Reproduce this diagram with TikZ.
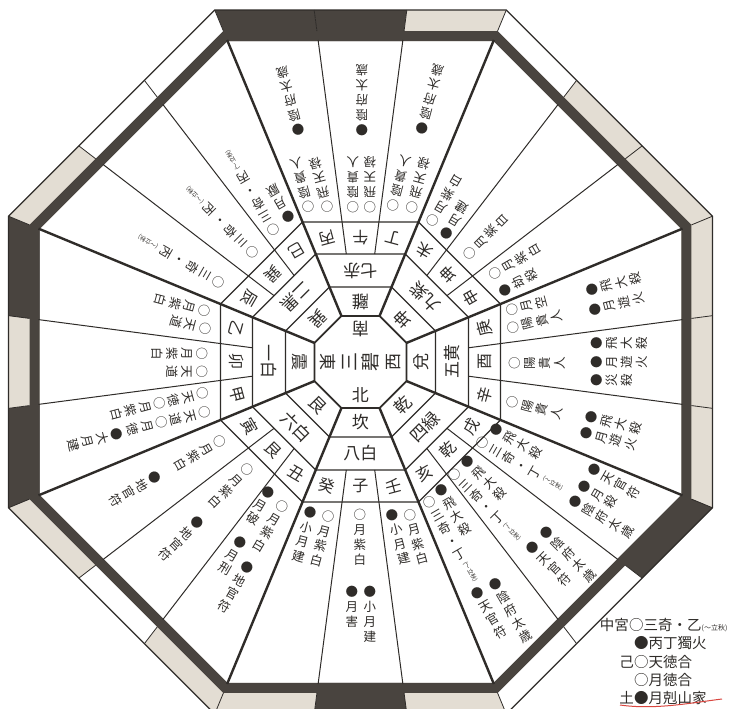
\documentclass[tikz,border=0pt]{standalone}
\usepackage{fontspec}
\newfontfamily\jp{Noto Sans CJK JP}
\usetikzlibrary{calc}
\definecolor{bandDark}{HTML}{49443F}
\definecolor{bandLight}{HTML}{E3DDD3}
\definecolor{ink}{HTML}{2F2C29}
\definecolor{redmark}{HTML}{D9463F}
\newcount\tcnt
\newcommand\sml{\raisebox{10pt}{\rotatebox{-90}{\fontsize{6}{7}\selectfont (〜立秋)}}}
\newcommand\vc[4]{\global\advance\tcnt by 1\relax
  \node[vtext, rotate={#1+90}, anchor=north] (t\the\tcnt) at ($({#2-360.5},{362-#3})+(#1:-6)$) {#4};}
\tikzset{
  vtext/.style={font=\jp\fontsize{12.5}{15}\selectfont, align=center, inner sep=0pt, text=ink},
  mtn/.style={font=\jp\fontsize{16}{18}\selectfont, inner sep=0pt, text=ink},
  starlbl/.style={font=\jp\fontsize{17}{19}\selectfont, inner sep=0pt, text=ink},
  centerlbl/.style={font=\jp\fontsize{19}{21}\selectfont, align=center, inner sep=0pt, text=ink},
  legend/.style={font=\jp\fontsize{14.5}{16}\selectfont, inner sep=0pt, text=ink},
  oct/.style={insert path={(22.5:{#1*1.0823922}) -- (67.5:{#1*1.0823922}) -- (112.5:{#1*1.0823922}) -- (157.5:{#1*1.0823922}) -- (202.5:{#1*1.0823922}) -- (247.5:{#1*1.0823922}) -- (292.5:{#1*1.0823922}) -- (337.5:{#1*1.0823922}) -- cycle}},
}
\begin{document}
\begin{tikzpicture}[x=1pt,y=1pt]
\useasboundingbox (-360.5,-347) rectangle (376.5,362);
\fill[white] (-360.5,-347) rectangle (376.5,362);
% ---- outer band cells
\foreach \m/\f in {105/bandDark,90/bandDark,75/bandLight,60/white,45/bandLight,30/bandLight,15/bandLight,0/bandLight,-15/bandLight,-30/bandDark,-45/white,-60/white,-75/bandLight,-90/bandDark,-105/bandLight,-120/bandLight,-135/white,-150/bandLight,-165/bandDark,180/bandLight,165/bandDark,150/bandLight,135/white,120/white}{
  \pgfmathsetmacro\sc{45*round(\m/45)}
  \pgfmathsetmacro\angA{\m-7.5}
  \pgfmathsetmacro\angB{\m+7.5}
  \pgfmathsetmacro\ra{1/cos(\angA-\sc)}
  \pgfmathsetmacro\rb{1/cos(\angB-\sc)}
  \fill[\f] (\angA:{352*\ra}) -- (\angB:{352*\rb}) -- (\angB:{321*\rb}) -- (\angA:{321*\ra}) -- cycle;
}
\fill[bandDark, even odd rule, oct=331, oct=321];
\foreach \k in {0,...,23}{
  \pgfmathsetmacro\angT{7.5+15*\k}
  \pgfmathsetmacro\sc{45*round(\angT/45)}
  \pgfmathsetmacro\rr{1/cos(\angT-\sc)}
  \draw[ink, line width=0.8pt] (\angT:{331*\rr}) -- (\angT:{352*\rr});
}
\draw[ink, line width=1.3pt, oct=352];
% ---- inner rings
\draw[ink, line width=1.8pt, oct=46];
\draw[ink, line width=1.3pt, oct=75];
\draw[ink, line width=1.3pt, oct=108];
\draw[ink, line width=1.3pt, oct=140];
\foreach \k in {0,...,7}
  \draw[ink, line width=2.4pt] ({22.5+45*\k}:{46*1.0823922}) -- ({22.5+45*\k}:{322*1.0823922});
\foreach \k in {0,...,7}
  \foreach \s in {-7.5,7.5}
    \draw[ink, line width=1pt] ({45*\k+\s}:{108*1.0086294}) -- ({45*\k+\s}:{322*1.0086294});
% ---- ring labels
\foreach \m/\t in {105/丙,90/午,75/丁,60/未,45/坤,30/申,15/庚,0/酉,-15/辛,-30/戌,-45/乾,-60/亥,-75/壬,-90/子,-105/癸,-120/丑,-135/艮,-150/寅,-165/甲,180/卯,165/乙,150/辰,135/巽,120/巳}{
  \pgfmathsetmacro\sc{45*round(\m/45)}
  \node[mtn, rotate=\m+90] (m\m) at (\m:{124/cos(\m-\sc)}) {\t};
}
\foreach \c/\t in {90/七赤,45/九紫,0/五黄,-45/四緑,-90/八白,-135/六白,180/一白,135/二黒}
  \node[starlbl, rotate=\c+90] (s\c) at (\c:91.5) {\t};
\foreach \c/\t in {90/離,45/坤,0/兌,-45/乾,-90/坎,-135/艮,180/震,135/巽}
  \node[starlbl, rotate=\c+90] (g\c) at (\c:60.5) {\t};
\node[starlbl, rotate=180] (cS) at (90:33) {南};
\node[starlbl, rotate=-90] (cE) at (180:33) {東};
\node[starlbl, rotate=90] (cW) at (0:33) {西};
\node[starlbl] (cN) at (-90:33) {北};
\node[centerlbl, rotate=90] (cC) at (0,0) {三\\碧};
% ---- wedge texts: top
\vc{105}{308}{207}{○\\陰\\貴\\人}
\vc{105}{327}{207}{○\\飛\\天\\禄}
\vc{105}{298}{130}{●\\陰\\府\\太\\歳}
\vc{90}{353}{207}{○\\陰\\貴\\人}
\vc{90}{370}{207}{○\\飛\\天\\禄}
\vc{90}{362}{130}{●\\陰\\府\\太\\歳}
\vc{75}{393}{205}{○\\陰\\貴\\人}
\vc{75}{412}{207}{○\\飛\\天\\禄}
\vc{75}{422}{128}{●\\陰\\府\\太\\歳}
% top-left
\vc{120}{288}{217}{●\\月\\厭}
\vc{120}{273}{230}{○\\三\\奇\\・\\丙\\\sml}
\vc{135}{252}{252}{○\\三\\奇\\・\\丙\\\sml}
\vc{150}{218}{282}{○\\三\\奇\\・\\丙\\\sml}
% left
\vc{165}{204}{311}{○\\月\\紫\\白}
\vc{165}{205}{329}{○\\天\\道}
\vc{180}{202}{354}{○\\月\\紫\\白}
\vc{180}{202}{372}{○\\天\\道}
\vc{-165}{203}{393}{○\\天\\徳}
\vc{-165}{205}{412}{○\\天\\道}
\vc{-165}{160}{403}{○\\月\\紫\\白}
\vc{-165}{162}{422}{○\\月\\徳}
\vc{-165}{117}{434}{●\\大\\月\\建}
% bottom-left
\vc{-150}{220}{442}{○\\月\\紫\\白}
\vc{-150}{155}{478}{●\\地\\官\\符}
\vc{-135}{247}{470}{○\\月\\紫\\白}
\vc{-135}{197}{523}{●\\地\\官\\符}
\vc{-120}{282}{507}{○\\月\\紫\\白}
\vc{-120}{268}{493}{●\\月\\破}
\vc{-120}{240}{543}{●\\月\\刑}
\vc{-120}{247}{568}{●\\地\\官\\符}
% bottom
\vc{-105}{328}{517}{○\\月\\紫\\白}
\vc{-105}{310}{513}{●\\小\\月\\建}
\vc{-90}{360}{515}{○\\月\\紫\\白}
\vc{-90}{352}{592}{●\\月\\害}
\vc{-90}{370}{592}{●\\小\\月\\建}
\vc{-75}{410}{515}{○\\月\\紫\\白}
\vc{-75}{392}{515}{●\\小\\月\\建}
% bottom-right
\vc{-60}{442}{490}{●\\飛\\大\\殺}
\vc{-60}{430}{502}{○\\三\\奇\\・\\丁\\\sml}
\vc{-60}{496}{584}{●\\陰\\府\\太\\歳}
\vc{-60}{478}{593}{●\\天\\官\\符}
\vc{-45}{468}{462}{●\\飛\\大\\殺}
\vc{-45}{455}{475}{○\\三\\奇\\・\\丁\\\sml}
\vc{-45}{547}{533}{●\\陰\\府\\太\\歳}
\vc{-45}{533}{548}{●\\天\\官\\符}
\vc{-30}{497}{430}{●\\飛\\大\\殺}
\vc{-30}{483}{443}{○\\三\\奇\\・\\丁\\\sml}
\vc{-30}{595}{470}{●\\天\\官\\符}
\vc{-30}{585}{487}{●\\月\\殺}
\vc{-30}{576}{502}{●\\陰\\府\\太\\歳}
% right
\vc{15}{512}{310}{○\\月\\空}
\vc{15}{513}{328}{○\\陽\\貴\\人}
\vc{15}{592}{290}{●\\飛\\大\\殺}
\vc{15}{595}{310}{●\\月\\遊\\火}
\vc{0}{515}{363}{○\\陽\\貴\\人}
\vc{0}{597}{343}{●\\飛\\大\\殺}
\vc{0}{597}{362}{●\\月\\遊\\火}
\vc{0}{597}{380}{●\\災\\殺}
\vc{-15}{513}{402}{○\\陽\\貴\\人}
\vc{-15}{592}{417}{●\\飛\\大\\殺}
\vc{-15}{587}{433}{●\\月\\遊\\火}
% top-right
\vc{60}{433}{220}{○\\月\\紫\\白}
\vc{60}{447}{233}{●\\月\\建}
\vc{45}{470}{253}{○\\月\\紫\\白}
\vc{30}{495}{273}{○\\月\\紫\\白}
\vc{30}{505}{290}{●\\劫\\殺}
% ---- legend
\begin{scope}[shift={(-360.5,362)}, yscale=-1]
  \node[legend, anchor=east] (lg1) at (629,625) {中宮};
  \node[legend, anchor=west] (lg2) at (629,625) {○三奇・乙{\fontsize{7}{8}\selectfont(〜立秋)}};
  \node[legend, anchor=west] (lg3) at (634,643) {●丙丁獨火};
  \node[legend, anchor=east] (lg4) at (634,662) {己};
  \node[legend, anchor=west] (lg5) at (634,662) {○天徳合};
  \node[legend, anchor=west] (lg6) at (634,680) {○月徳合};
  \node[legend, anchor=east] (lg7) at (634,698) {土};
  \node[legend, anchor=west] (lg8) at (634,698) {●月剋山家};
  \draw[redmark, line width=1pt] (620,705) .. controls (655,710) and (690,703) .. (722,699);
\end{scope}
\end{tikzpicture}
\end{document}
